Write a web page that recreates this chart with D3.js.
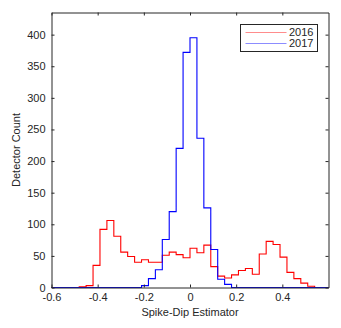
<!DOCTYPE html>
<html>
<head>
<meta charset="utf-8">
<script src="https://cdn.jsdelivr.net/npm/d3@7"></script>
<style>
  body { margin: 0; background: #fff; }
  svg text { font-family: "Liberation Sans", Arial, sans-serif; fill: #262626; }
</style>
</head>
<body>
<div id="chart"></div>
<script>
// Histogram bins: 40 bins of width 0.03 from -0.6 to 0.6
var binStart = -0.6;
var binWidth = 0.03;

var series = ["2016", "2017"];
var counts2016 = [0, 0, 0, 0, 1, 3, 35, 92, 106, 81, 56, 49, 40, 44, 40, 40, 51, 56, 52, 47,
                  62, 55, 67, 33, 18, 15, 20, 27, 30, 21, 53, 73, 68, 48, 24, 14, 7, 2, 0, 0];
var counts2017 = [0, 0, 0, 0, 0, 0, 0, 0, 0, 0, 0, 0, 0, 3, 14, 28, 76, 120, 220, 372,
                  395, 236, 126, 60, 13, 5, 0, 0, 0, 0, 0, 0, 0, 0, 0, 0, 0, 0, 0, 0];
var colors = ["#ff0000", "#0000ff"];

var xTicks = [-0.6, -0.4, -0.2, 0, 0.2, 0.4];
var yTicks = [0, 50, 100, 150, 200, 250, 300, 350, 400];

var width = 341, height = 328;
var margin = {top: 12.5, right: 12.5, bottom: 40.5, left: 51.5};
var plotW = width - margin.left - margin.right;
var plotH = height - margin.top - margin.bottom;
var axisColor = "#262626";

var svg = d3.select("#chart")
    .append("svg")
    .attr("width", width)
    .attr("height", height);

var g = svg.append("g")
    .attr("transform", "translate(" + margin.left + "," + margin.top + ")");

var x = d3.scaleLinear().domain([-0.6, 0.6]).range([0, plotW]);
var y = d3.scaleLinear().domain([0, 435]).range([plotH, 0]);

// turn counts into step points (one per bin edge, plus the closing edge)
function stepPoints(counts) {
  var pts = counts.map(function(c, i) { return [binStart + i * binWidth, c]; });
  pts.push([binStart + counts.length * binWidth, counts[counts.length - 1]]);
  return pts;
}

var line = d3.line()
    .x(function(d) { return x(d[0]); })
    .y(function(d) { return y(d[1]); })
    .curve(d3.curveStepAfter);

[counts2016, counts2017].forEach(function(counts, i) {
  g.append("path")
      .attr("d", line(stepPoints(counts)))
      .attr("fill", "none")
      .attr("stroke", colors[i])
      .attr("stroke-width", 1.1);
});

// axes with inward ticks, box on
function styleAxis(sel) {
  sel.selectAll(".domain").attr("stroke", axisColor);
  sel.selectAll(".tick line").attr("stroke", axisColor);
  sel.selectAll(".tick text").style("font-size", "11px").attr("fill", axisColor);
}

g.append("g")
    .attr("transform", "translate(0," + plotH + ")")
    .call(d3.axisBottom(x).tickValues(xTicks).tickSizeInner(-3).tickSizeOuter(0)
      .tickPadding(6).tickFormat(function(d) { return d === 0 ? "0" : d3.format(".1f")(d).replace("−", "-"); }))
    .call(styleAxis);

g.append("g")
    .call(d3.axisTop(x).tickValues(xTicks).tickSizeInner(-3).tickSizeOuter(0).tickFormat(""))
    .call(styleAxis);

g.append("g")
    .call(d3.axisLeft(y).tickValues(yTicks).tickSizeInner(-3).tickSizeOuter(0).tickPadding(6))
    .call(styleAxis);

g.append("g")
    .attr("transform", "translate(" + plotW + ",0)")
    .call(d3.axisRight(y).tickValues(yTicks).tickSizeInner(-3).tickSizeOuter(0).tickFormat(""))
    .call(styleAxis);

// axis titles
svg.append("text")
    .attr("x", margin.left + plotW / 2)
    .attr("y", 316)
    .attr("text-anchor", "middle")
    .style("font-size", "11px")
    .text("Spike-Dip Estimator");

svg.append("text")
    .attr("transform", "translate(20," + (margin.top + plotH / 2) + ") rotate(-90)")
    .attr("text-anchor", "middle")
    .style("font-size", "11px")
    .text("Detector Count");

// legend
var legend = svg.append("g").attr("transform", "translate(240.5,24.5)");
legend.append("rect")
    .attr("width", 77)
    .attr("height", 27)
    .attr("fill", "#fff")
    .attr("stroke", axisColor)
    .attr("stroke-width", 1);

series.forEach(function(name, i) {
  var row = legend.append("g").attr("transform", "translate(0," + (8 + i * 11) + ")");
  row.append("line")
      .attr("x1", 5).attr("x2", 46)
      .attr("stroke", colors[i])
      .attr("stroke-opacity", 0.45)
      .attr("stroke-width", 1.2);
  row.append("text")
      .attr("x", 48.5)
      .attr("dy", "0.35em")
      .style("font-size", "11px")
      .text(name);
});
</script>
</body>
</html>
